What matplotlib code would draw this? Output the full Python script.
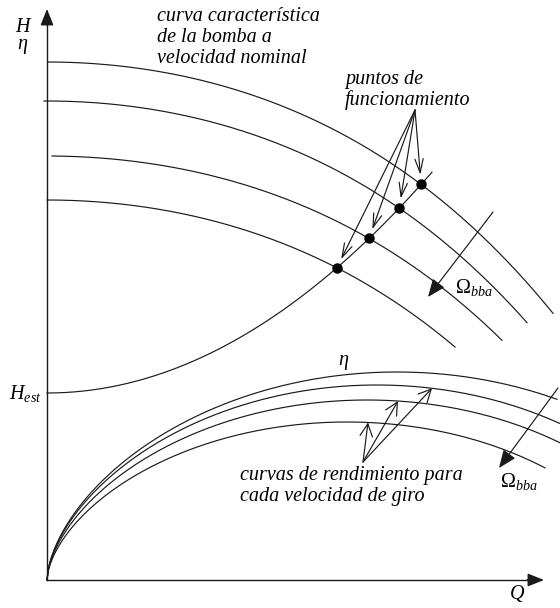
import numpy as np
import matplotlib
matplotlib.use("Agg")
import matplotlib.pyplot as plt

plt.rcParams['font.family'] = ['Liberation Serif', 'DejaVu Serif']
plt.rcParams['mathtext.fontset'] = 'custom'
plt.rcParams['mathtext.rm'] = 'Liberation Serif'
plt.rcParams['mathtext.it'] = 'Liberation Serif:italic'

# Pump head curves at four rotational speeds: H = H0 - a*Q^2 - c*Q^4
pump_shutoff_head = [5.18, 4.79, 4.24, 3.80]
pump_quad_coef = [0.0746, 0.075, 0.070, 0.073]
pump_quartic_coef = 9.2e-4
pump_q_start = [0.01, -0.03, 0.05, 0.0]
pump_q_end = [5.06, 4.80, 4.55, 4.08]

# System curve: H = Hest + k*Q^2
static_head = 1.87
system_coef = 0.149
system_q_end = 3.85

# Efficiency curves: eta = eta_max * (1 - (1 - Q/Qb)^2)^p
eff_peak = [2.08, 1.95, 1.80, 1.58]
eff_q_best = [3.50, 3.30, 3.20, 3.00]
eff_shape = 0.6
eff_q_end = [5.10, 5.13, 5.13, 4.98]
# flow rates where the efficiency callout arrows touch curves 4, 3 and 2
eff_arrow_q = [3.21, 3.51, 3.85]
eff_arrow_curve = [3, 2, 1]

LC = '#1a1a1a'
LW = 0.85


def pump_head(i, q):
    return pump_shutoff_head[i] - pump_quad_coef[i] * q**2 - pump_quartic_coef * q**4


def system_head(q):
    return static_head + system_coef * q**2


def efficiency(i, q):
    s = 1 - (1 - q / eff_q_best[i])**2
    return eff_peak[i] * np.clip(s, 0, None)**eff_shape


fig = plt.figure(figsize=(5.6, 6.08), dpi=100)
ax = fig.add_axes([0, 0, 1, 1])
ax.set_xlim(-0.47, 5.13)
ax.set_ylim(-0.28, 5.80)
ax.axis('off')

# axes with arrowheads
ax.plot([0, 0], [0, 5.60], color=LC, lw=1.0)
ax.plot([0, 4.90], [0, 0], color=LC, lw=1.0)
axis_head = '-|>,head_length=1.0,head_width=0.4'
ax.annotate('', xy=(0, 5.71), xytext=(0, 5.55),
            arrowprops=dict(arrowstyle=axis_head, color=LC, lw=1.0,
                            mutation_scale=10, shrinkA=0, shrinkB=0))
ax.annotate('', xy=(4.97, 0), xytext=(4.80, 0),
            arrowprops=dict(arrowstyle=axis_head, color=LC, lw=1.0,
                            mutation_scale=10, shrinkA=0, shrinkB=0))

# pump curves
for i in range(len(pump_shutoff_head)):
    q = np.linspace(pump_q_start[i], pump_q_end[i], 300)
    ax.plot(q, pump_head(i, q), color=LC, lw=LW)

# system curve
qs = np.linspace(0, system_q_end, 300)
ax.plot(qs, system_head(qs), color=LC, lw=LW)

# operating points: intersection of each pump curve with the system curve
op_q, op_h = [], []
for i in range(len(pump_shutoff_head)):
    c = pump_quartic_coef
    b = pump_quad_coef[i] + system_coef
    d = pump_shutoff_head[i] - static_head
    q2 = (-b + np.sqrt(b * b + 4 * c * d)) / (2 * c)
    op_q.append(np.sqrt(q2))
    op_h.append(system_head(np.sqrt(q2)))
ax.plot(op_q, op_h, 'o', color='black', ms=6.5, zorder=5)

# efficiency curves
for i in range(len(eff_peak)):
    q = np.linspace(0, eff_q_end[i], 400)
    ax.plot(q, efficiency(i, q), color=LC, lw=LW)

open_head = '->,head_length=1.0,head_width=0.3'
eff_head = '->,head_length=0.9,head_width=0.45'
fill_head = '-|>,head_length=1.1,head_width=0.45'

# callout arrows to operating points
for q, h in zip(op_q, op_h):
    ax.annotate('', xy=(q, h), xytext=(3.68, 4.70),
                arrowprops=dict(arrowstyle=open_head, color=LC, lw=LW,
                                mutation_scale=10, shrinkA=0, shrinkB=7))

# callout arrows to efficiency curves
for q, i in zip(eff_arrow_q, eff_arrow_curve):
    ax.annotate('', xy=(q, efficiency(i, q)), xytext=(3.16, 1.18),
                arrowprops=dict(arrowstyle=eff_head, color=LC, lw=LW,
                                mutation_scale=10, shrinkA=0, shrinkB=0))

# decreasing-speed arrows
ax.annotate('', xy=(3.81, 2.83), xytext=(4.46, 3.68),
            arrowprops=dict(arrowstyle=fill_head, color=LC, lw=LW,
                            mutation_scale=10, shrinkA=0, shrinkB=0))
ax.annotate('', xy=(4.52, 1.12), xytext=(5.11, 1.92),
            arrowprops=dict(arrowstyle=fill_head, color=LC, lw=LW,
                            mutation_scale=10, shrinkA=0, shrinkB=0))

FS = 14.5
ax.text(-0.25, 5.53, 'H', fontsize=FS, style='italic', ha='center', va='center')
ax.text(-0.25, 5.35, 'η', fontsize=FS, style='italic', ha='center', va='center')
ax.text(-0.05, static_head, r'$H_{est}$', fontsize=FS, ha='right', va='center')
ax.text(4.70, -0.14, 'Q', fontsize=FS, style='italic', ha='center', va='center')
ax.text(2.96, 2.20, 'η', fontsize=FS, style='italic', ha='center', va='center')

ax.text(1.10, 5.425, 'curva característica\nde la bomba a\nvelocidad nominal',
        fontsize=FS, style='italic', ha='left', va='center', linespacing=1.12)
ax.text(2.98, 4.90, 'puntos de\nfuncionamiento',
        fontsize=FS, style='italic', ha='left', va='center', linespacing=1.12)
ax.text(1.93, 0.94, 'curvas de rendimiento para\ncada velocidad de giro',
        fontsize=FS, style='italic', ha='left', va='center', linespacing=1.12)

ax.text(4.08, 2.92, r'$\Omega_{bba}$', fontsize=FS, ha='left', va='center')
ax.text(4.53, 0.98, r'$\Omega_{bba}$', fontsize=FS, ha='left', va='center')

fig.savefig('out.png', dpi=100)
